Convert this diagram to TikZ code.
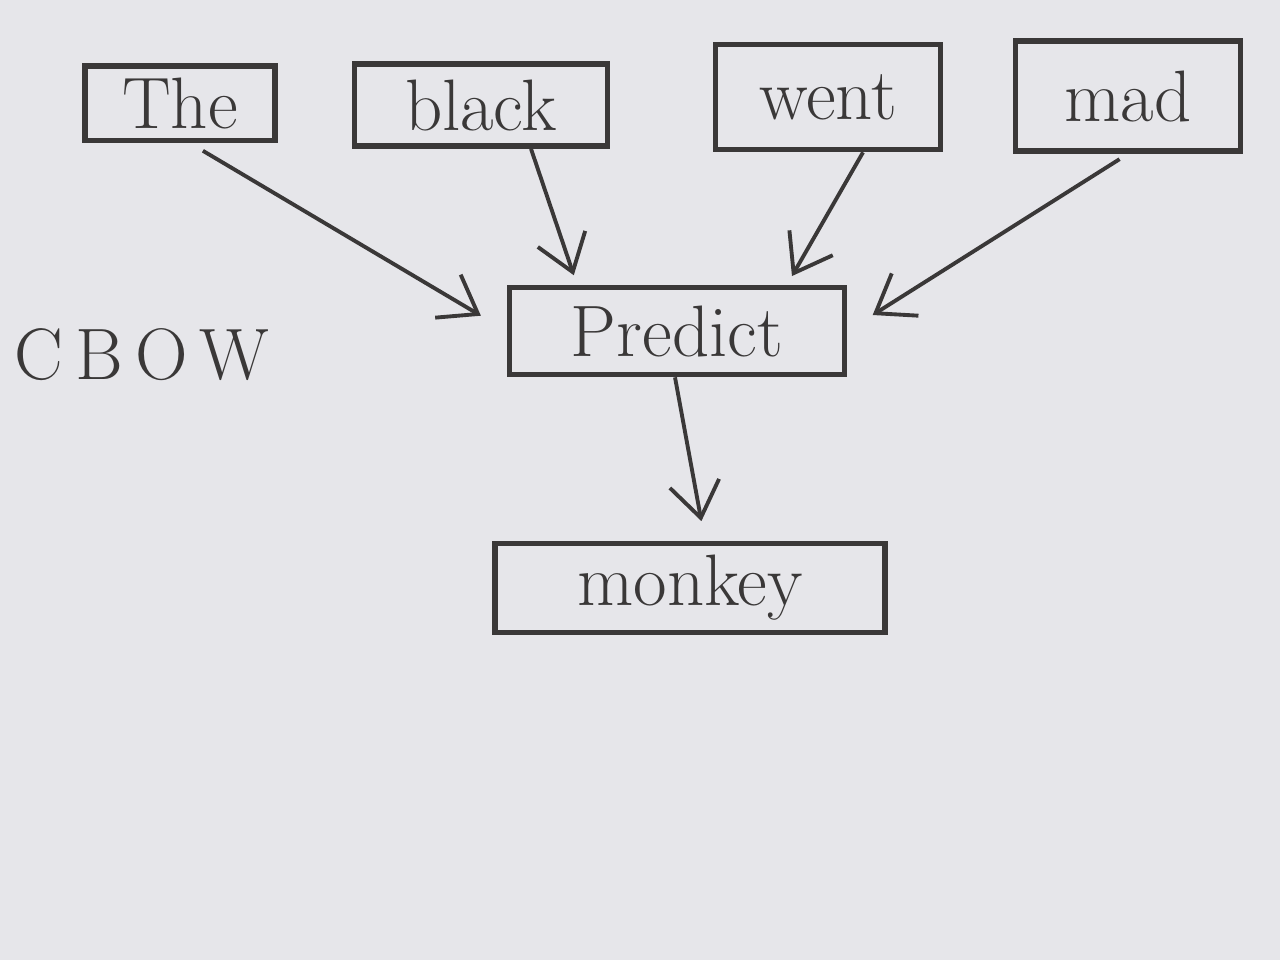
\documentclass[tikz,border=0pt]{standalone}
\usepackage{xcolor}
\usepackage{tikz}
\usetikzlibrary{arrows.meta,calc}
\definecolor{Ink}{HTML}{3A3838}
\definecolor{Paper}{HTML}{E6E6EA}

\begin{document}
\begin{tikzpicture}[
  word/.style={draw=Ink,line width=1.6pt,minimum width=20mm,minimum height=8mm,align=center,font=\huge,text=Ink},
  arr/.style={-{Straight Barb[length=3.5mm,width=5mm]},line width=1.1pt,color=Ink}
]
\fill[Paper] (0,0) rectangle (12.8,-9.6);
\useasboundingbox (0,0) rectangle (12.8,-9.6);

\node[font=\huge,text=Ink,anchor=west] (cbow) at (0.02,-3.55) {C\,B\,O\,W};

\node[word,minimum width=19mm,minimum height=7mm] (the) at (1.80,-1.03) {The};
\node[word,minimum width=25.3mm,minimum height=8.2mm] (blk) at (4.81,-1.05) {black};
\node[word,minimum width=22.5mm,minimum height=10.5mm] (went) at (8.28,-0.97) {went};
\node[word,minimum width=22.5mm,minimum height=11mm] (mad) at (11.28,-0.96) {mad};

\node[word,minimum width=33.5mm,minimum height=8.7mm] (pred) at (6.77,-3.31) {Predict};
\node[word,minimum width=39mm,minimum height=8.5mm] (mon) at (6.90,-5.88) {monkey};

\draw[arr,shorten <=1.5mm,shorten >=3mm] ([xshift=1mm]the.south) -- (pred.west);
\draw[arr,shorten <=0mm,shorten >=1mm] ([xshift=5mm]blk.south) -- ([xshift=-10mm]pred.north);
\draw[arr,shorten <=0mm,shorten >=1mm] ([xshift=3.5mm]went.south) -- ([xshift=11mm]pred.north);
\draw[arr,shorten <=1mm,shorten >=3mm] (mad.south) -- (pred.east);
\draw[arr,shorten >=2mm] ([xshift=-0.2mm]pred.south) -- ([xshift=1.5mm]mon.north);
\end{tikzpicture}
\end{document}
